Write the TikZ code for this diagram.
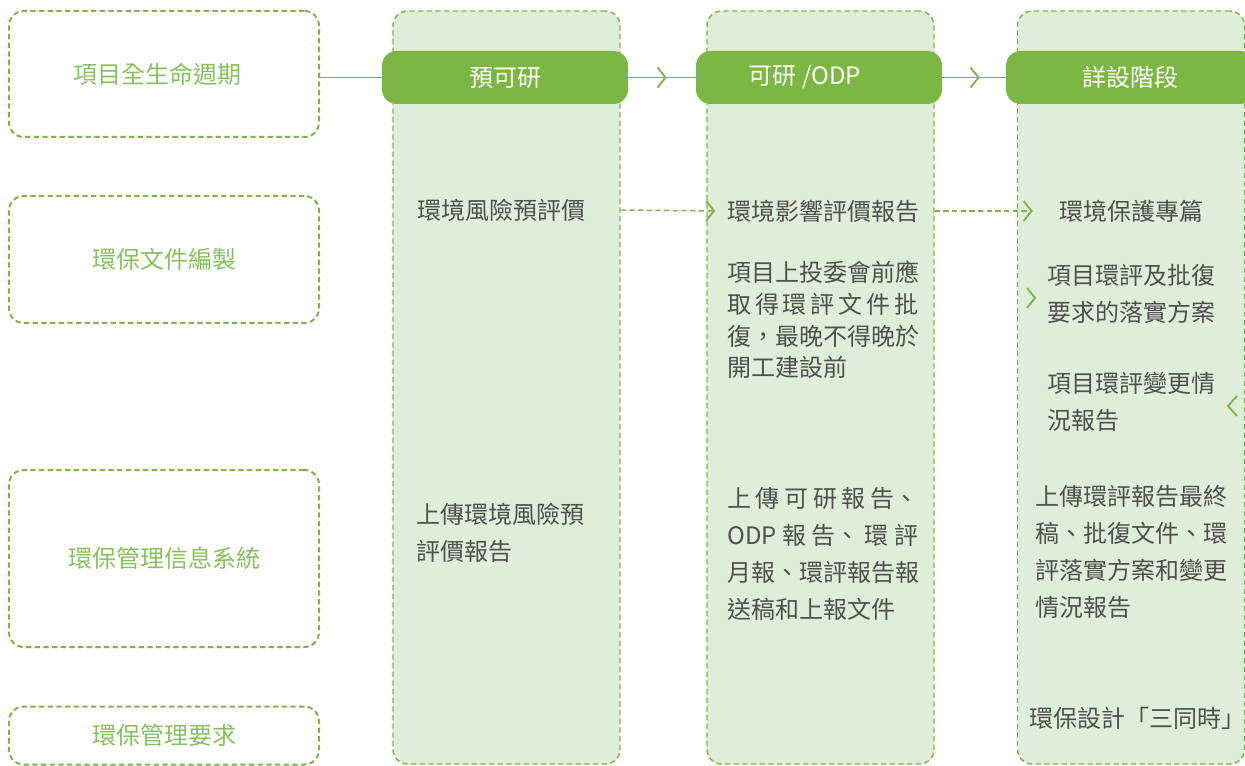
\documentclass[tikz,border=0pt]{standalone}
\usepackage{fontspec}
\setmainfont{Noto Sans CJK TC}
\usepackage{tikz}
\usetikzlibrary{arrows.meta, decorations.markings}
\usepackage{xcolor}
\definecolor{verde}{HTML}{7CB743}
\definecolor{verdeclaro}{HTML}{DFEED9}
\definecolor{verdetexto}{HTML}{86C25A}
\definecolor{cinza}{HTML}{505050}
\newcommand{\justa}[1]{\makebox[143.25pt][s]{#1}}

\begin{document}
\begin{tikzpicture}[x=0.75pt, y=-0.75pt,
    caixa/.style={draw=verde, line width=1.5pt, dash pattern=on 4pt off 2.5pt,
        rounded corners=11pt, text=verdetexto, minimum width=232.5pt,
        font=\fontsize{18}{24}\selectfont},
    coluna/.style={draw=verde, fill=verdeclaro, line width=1.1pt,
        dash pattern=on 4pt off 2.5pt, rounded corners=11pt,
        minimum width=170.25pt, minimum height=564.75pt},
    barra/.style={fill=verde, text=white, rounded corners=11pt,
        minimum width=184.5pt, minimum height=39.75pt,
        font=\fontsize{18}{24}\selectfont},
    texto/.style={text=cinza, anchor=west, inner sep=0pt, align=left,
        font=\fontsize{18}{27.75}\selectfont},
    seta/.style={draw=verde, line width=1.1pt},
    ponta/.style={-{Straight Barb[length=6pt, width=15pt, line width=1.4pt]}},
    meio/.style={postaction={decorate, decoration={markings,
        mark=at position #1 with {\arrow{Straight Barb[length=6pt, width=15pt, line width=1.4pt]}}}}}
]
    \useasboundingbox (0,0) rectangle (1245,766);
    % Colunas
    \node[coluna] (col1) at (506.5,387.5) {};
    \node[coluna] (col2) at (820.5,387.5) {};
    \node[coluna] (col3) at (1131,387.5) {};
    % Caixas da esquerda
    \node[caixa, minimum height=94.5pt] (ciclo) at (164,74) {項目全生命週期\hspace*{10pt}};
    \node[caixa, minimum height=95.25pt] (docs) at (164,259.5) {環保文件編製};
    \node[caixa, minimum height=132.75pt] (sistema) at (164,558.5) {環保管理信息系統};
    \node[caixa, minimum height=43.5pt] (requisitos) at (164,735.5) {環保管理要求};
    % Fases
    \node[barra] (fase1) at (505,77.5) {預可研};
    \node[barra] (fase2) at (819,77.5) {可研 /ODP\hspace*{21pt}};
    \node[barra, minimum width=186pt] (fase3) at (1130,77.5) {詳設階段};
    \draw[seta] (fase1.west -| ciclo.east) -- (fase1.west);
    \draw[seta, meio=0.57] (fase1.east) -- (fase2.west);
    \draw[seta, meio=0.59] (fase2.east) -- (fase3.west);
    % Pré-viabilidade
    \node[texto] (riscoavaliacao) at (417,210) {環境風險預評價};
    \node[texto] (riscoenvio) at (416,533) {上傳環境風險預\\評價報告};
    % Viabilidade / ODP
    \node[texto] (eia) at (727,211) {環境影響評價報告};
    \node[texto, font=\fontsize{18}{23.8}\selectfont] (aprovacao) at (727,320)
        {項目上投委會前應\\\justa{取 得 環 評 文 件 批}\\復，最晚不得晚於\\開工建設前};
    \node[texto] (odpenvio) at (727,553.5)
        {\justa{上 傳 可 研 報 告、}\\\justa{ODP 報 告、 環 評}\\月報、環評報告報\\送稿和上報文件};
    % Projeto detalhado
    \node[texto] (protecao) at (1059,211) {環境保護專篇};
    \node[texto] (implementacao) at (1047,293.5) {項目環評及批復\\要求的落實方案};
    \node[texto] (alteracao) at (1047,402) {項目環評變更情\\況報告};
    \node[texto] (finalenvio) at (1035,551.5)
        {上傳環評報告最終\\稿、批復文件、環\\評落實方案和變更\\情況報告};
    \node[texto] (simultaneo) at (1029,718) {環保設計「三同時」};
    % Ligações tracejadas
    \draw[seta, ponta, dash pattern=on 4pt off 2.5pt]
        (riscoavaliacao -| col1.east) -- ([xshift=6.75pt]eia.west -| col2.west);
    \draw[seta, ponta, dash pattern=on 4pt off 2.5pt]
        (eia -| col2.east) -- ([xshift=12pt]protecao.west -| col3.west);
    % Setas soltas
    \coordinate (chevdir) at (1035,298);
    \coordinate (chevesq) at (1228,406);
    \draw[seta, line width=1.4pt] (chevdir) ++(-8,-10) -- (chevdir) -- ++(-8,10);
    \draw[seta, line width=1.4pt] (chevesq) ++(9,-10) -- (chevesq) -- ++(9,10);
\end{tikzpicture}
\end{document}
